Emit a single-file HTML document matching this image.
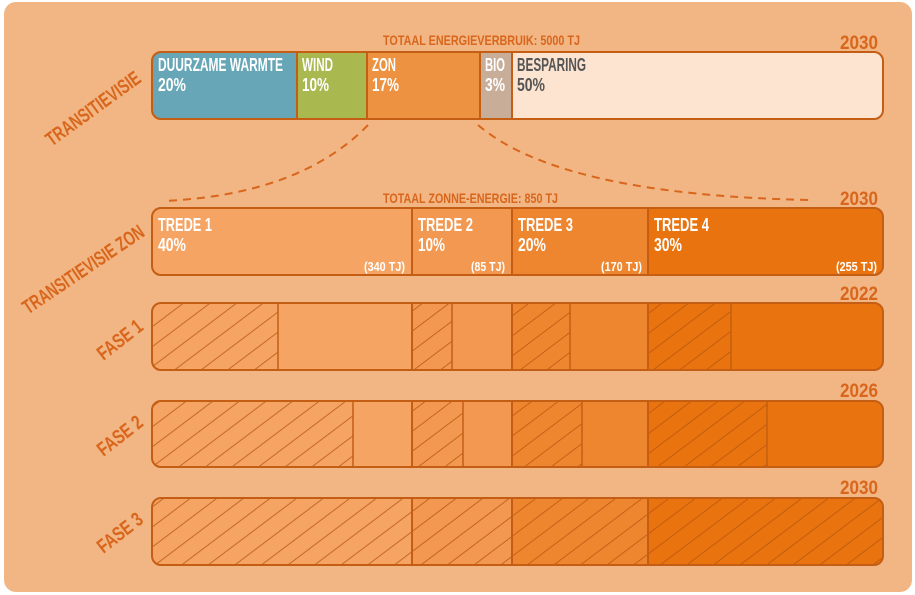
<!DOCTYPE html>
<html><head><meta charset="utf-8"><style>
html,body{margin:0;padding:0;background:#fff;}
svg{display:block}
text{font-family:"Liberation Sans Narrow","Liberation Sans",sans-serif;font-weight:bold;}
</style></head><body>
<svg width="915" height="595" viewBox="0 0 915 595" xmlns="http://www.w3.org/2000/svg">
<defs>
<pattern id="h" patternUnits="userSpaceOnUse" width="10" height="16" patternTransform="rotate(-37)">
<line x1="0" y1="0.5" x2="10" y2="0.5" stroke="#B8530C" stroke-width="1" stroke-opacity="0.75"/>
</pattern>
<clipPath id="c1"><rect x="152" y="303" width="731" height="67" rx="9"/></clipPath>
<clipPath id="c2"><rect x="152" y="401" width="731" height="66" rx="9"/></clipPath>
<clipPath id="c3"><rect x="152" y="498" width="731" height="67" rx="9"/></clipPath>
<clipPath id="c0"><rect x="152" y="52" width="731" height="67" rx="9"/></clipPath>
<clipPath id="cz"><rect x="152" y="208" width="731" height="67" rx="9"/></clipPath>
</defs>
<rect x="4" y="2" width="908" height="590" rx="12" fill="#F2B684"/>

<g clip-path="url(#c0)">
<rect x="152" y="52" width="145" height="67" fill="#67A6B7"/>
<rect x="297" y="52" width="70" height="67" fill="#A9B84F"/>
<rect x="367" y="52" width="113" height="67" fill="#EC9240"/>
<rect x="480" y="52" width="32" height="67" fill="#C8AD99"/>
<rect x="512" y="52" width="371" height="67" fill="#FCE4D0"/>
<g stroke="#C45E14" stroke-width="2"><line x1="297" y1="52" x2="297" y2="119"/><line x1="367" y1="52" x2="367" y2="119"/><line x1="480" y1="52" x2="480" y2="119"/><line x1="512" y1="52" x2="512" y2="119"/></g>
</g>
<rect x="152" y="52" width="731" height="67" rx="9" fill="none" stroke="#C45E14" stroke-width="2"/>
<g font-size="18" fill="#fff" lengthAdjust="spacingAndGlyphs">
<text x="158" y="71" textLength="125" lengthAdjust="spacingAndGlyphs">DUURZAME WARMTE</text><text x="158" y="91" textLength="28" lengthAdjust="spacingAndGlyphs">20%</text>
<text x="302" y="71" textLength="31" lengthAdjust="spacingAndGlyphs">WIND</text><text x="302" y="91" textLength="27" lengthAdjust="spacingAndGlyphs">10%</text>
<text x="372" y="71" textLength="24" lengthAdjust="spacingAndGlyphs">ZON</text><text x="372" y="91" textLength="27" lengthAdjust="spacingAndGlyphs">17%</text>
<text x="485" y="71" textLength="20" lengthAdjust="spacingAndGlyphs">BIO</text><text x="485" y="91" textLength="20" lengthAdjust="spacingAndGlyphs">3%</text>
<text x="517" y="71" fill="#555" textLength="69" lengthAdjust="spacingAndGlyphs">BESPARING</text><text x="517" y="91" fill="#555" textLength="28" lengthAdjust="spacingAndGlyphs">50%</text>
</g>
<text x="383" y="45" font-size="14" fill="#D8661C" textLength="197" lengthAdjust="spacingAndGlyphs">TOTAAL ENERGIEVERBRUIK: 5000 TJ</text>
<text x="840" y="49" font-size="19" fill="#D8661C" textLength="38" lengthAdjust="spacingAndGlyphs">2030</text>

<path d="M368 125 Q300 195 163 201" fill="none" stroke="#D8661C" stroke-width="2" stroke-dasharray="8,6"/>
<path d="M478 125 Q560 195 810 200" fill="none" stroke="#D8661C" stroke-width="2" stroke-dasharray="8,6"/>

<text x="383" y="203" font-size="14" fill="#D8661C" textLength="175" lengthAdjust="spacingAndGlyphs">TOTAAL ZONNE-ENERGIE: 850 TJ</text>
<text x="840" y="205" font-size="19" fill="#D8661C" textLength="38" lengthAdjust="spacingAndGlyphs">2030</text>
<g clip-path="url(#cz)">
<rect x="152" y="208" width="260" height="67" fill="#F5A463"/>
<rect x="412" y="208" width="100" height="67" fill="#F29850"/>
<rect x="512" y="208" width="136" height="67" fill="#EE8630"/>
<rect x="648" y="208" width="235" height="67" fill="#E9740F"/>
<g stroke="#C45E14" stroke-width="2"><line x1="412" y1="208" x2="412" y2="275"/><line x1="512" y1="208" x2="512" y2="275"/><line x1="648" y1="208" x2="648" y2="275"/></g>
</g>
<rect x="152" y="208" width="731" height="67" rx="9" fill="none" stroke="#C45E14" stroke-width="2"/>
<g font-size="18" fill="#fff">
<text x="158" y="231" textLength="54" lengthAdjust="spacingAndGlyphs">TREDE 1</text><text x="158" y="251" textLength="28" lengthAdjust="spacingAndGlyphs">40%</text>
<text x="418" y="231" textLength="55" lengthAdjust="spacingAndGlyphs">TREDE 2</text><text x="418" y="251" textLength="27" lengthAdjust="spacingAndGlyphs">10%</text>
<text x="518" y="231" textLength="55" lengthAdjust="spacingAndGlyphs">TREDE 3</text><text x="518" y="251" textLength="28" lengthAdjust="spacingAndGlyphs">20%</text>
<text x="654" y="231" textLength="55" lengthAdjust="spacingAndGlyphs">TREDE 4</text><text x="654" y="251" textLength="28" lengthAdjust="spacingAndGlyphs">30%</text>
</g>
<g font-size="13" fill="#fff">
<text x="364" y="271" textLength="41" lengthAdjust="spacingAndGlyphs">(340 TJ)</text>
<text x="471" y="271" textLength="34" lengthAdjust="spacingAndGlyphs">(85 TJ)</text>
<text x="601" y="271" textLength="41" lengthAdjust="spacingAndGlyphs">(170 TJ)</text>
<text x="836" y="271" textLength="41" lengthAdjust="spacingAndGlyphs">(255 TJ)</text>
</g>

<g font-size="19" fill="#D8661C">
<text x="840" y="300" textLength="38" lengthAdjust="spacingAndGlyphs">2022</text>
<text x="840" y="397" textLength="38" lengthAdjust="spacingAndGlyphs">2026</text>
<text x="840" y="494" textLength="38" lengthAdjust="spacingAndGlyphs">2030</text>
</g>

<g clip-path="url(#c1)">
<rect x="152" y="303" width="260" height="67" fill="#F5A463"/>
<rect x="412" y="303" width="100" height="67" fill="#F29850"/>
<rect x="512" y="303" width="136" height="67" fill="#EE8630"/>
<rect x="648" y="303" width="235" height="67" fill="#E9740F"/>
<rect x="152" y="303" width="126" height="67" fill="url(#h)"/>
<rect x="412" y="303" width="40" height="67" fill="url(#h)"/>
<rect x="512" y="303" width="58" height="67" fill="url(#h)"/>
<rect x="648" y="303" width="83" height="67" fill="url(#h)"/>
<g stroke="#C45E14" stroke-width="1.5"><line x1="278" y1="303" x2="278" y2="370"/><line x1="452" y1="303" x2="452" y2="370"/><line x1="570" y1="303" x2="570" y2="370"/><line x1="731" y1="303" x2="731" y2="370"/></g>
<g stroke="#C45E14" stroke-width="2"><line x1="412" y1="303" x2="412" y2="370"/><line x1="512" y1="303" x2="512" y2="370"/><line x1="648" y1="303" x2="648" y2="370"/></g>
</g>
<rect x="152" y="303" width="731" height="67" rx="9" fill="none" stroke="#C45E14" stroke-width="2"/>

<g clip-path="url(#c2)">
<rect x="152" y="401" width="260" height="66" fill="#F5A463"/>
<rect x="412" y="401" width="100" height="66" fill="#F29850"/>
<rect x="512" y="401" width="136" height="66" fill="#EE8630"/>
<rect x="648" y="401" width="235" height="66" fill="#E9740F"/>
<rect x="152" y="401" width="201" height="66" fill="url(#h)"/>
<rect x="412" y="401" width="51" height="66" fill="url(#h)"/>
<rect x="512" y="401" width="70" height="66" fill="url(#h)"/>
<rect x="648" y="401" width="119" height="66" fill="url(#h)"/>
<g stroke="#C45E14" stroke-width="1.5"><line x1="353" y1="401" x2="353" y2="467"/><line x1="463" y1="401" x2="463" y2="467"/><line x1="582" y1="401" x2="582" y2="467"/><line x1="767" y1="401" x2="767" y2="467"/></g>
<g stroke="#C45E14" stroke-width="2"><line x1="412" y1="401" x2="412" y2="467"/><line x1="512" y1="401" x2="512" y2="467"/><line x1="648" y1="401" x2="648" y2="467"/></g>
</g>
<rect x="152" y="401" width="731" height="66" rx="9" fill="none" stroke="#C45E14" stroke-width="2"/>

<g clip-path="url(#c3)">
<rect x="152" y="498" width="260" height="67" fill="#F5A463"/>
<rect x="412" y="498" width="100" height="67" fill="#F29850"/>
<rect x="512" y="498" width="136" height="67" fill="#EE8630"/>
<rect x="648" y="498" width="235" height="67" fill="#E9740F"/>
<rect x="152" y="498" width="731" height="67" fill="url(#h)"/>
<g stroke="#C45E14" stroke-width="2"><line x1="412" y1="498" x2="412" y2="565"/><line x1="512" y1="498" x2="512" y2="565"/><line x1="648" y1="498" x2="648" y2="565"/></g>
</g>
<rect x="152" y="498" width="731" height="67" rx="9" fill="none" stroke="#C45E14" stroke-width="2"/>

<g font-size="20" fill="#D8661C" text-anchor="middle">
<text transform="translate(97,114) rotate(-36)" textLength="112" lengthAdjust="spacingAndGlyphs">TRANSITIEVISIE</text>
<text transform="translate(87,275) rotate(-34)" textLength="142" lengthAdjust="spacingAndGlyphs">TRANSITIEVISIE ZON</text>
<text transform="translate(124,345) rotate(-38)" textLength="52" lengthAdjust="spacingAndGlyphs">FASE 1</text>
<text transform="translate(124,441) rotate(-38)" textLength="52" lengthAdjust="spacingAndGlyphs">FASE 2</text>
<text transform="translate(124,538) rotate(-38)" textLength="52" lengthAdjust="spacingAndGlyphs">FASE 3</text>
</g>
</svg>
</body></html>
